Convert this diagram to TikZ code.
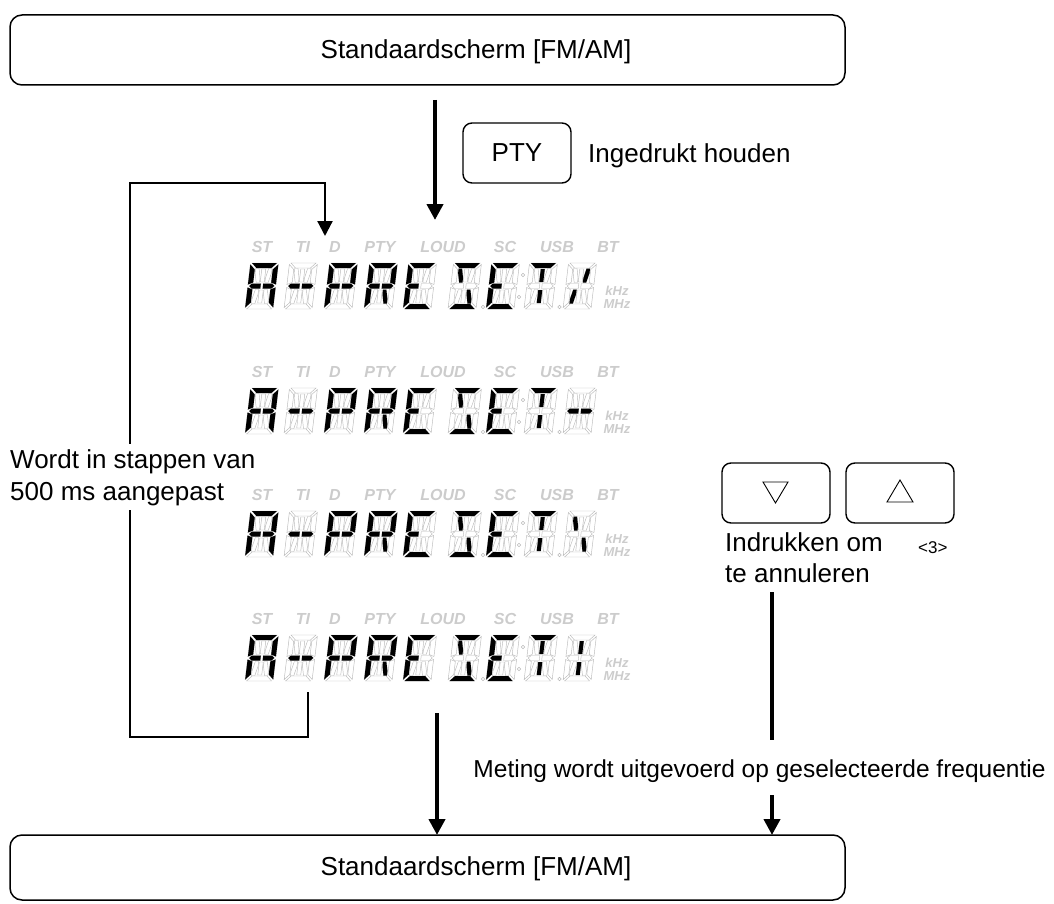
\documentclass[tikz,border=0pt]{standalone}
\usepackage{fontspec}
\setmainfont{Liberation Sans}
\usetikzlibrary{arrows.meta}
% 14-segment geometry (local, unslanted, width 28, height 46)
\def\sga{(1.5,46) -- (26.5,46) -- (21.5,41) -- (6.5,41) -- cycle}
\def\sgd{(1.5,0) -- (26.5,0) -- (21.5,5) -- (6.5,5) -- cycle}
\def\sgf{(0,44.5) -- (5,39.5) -- (5,26.5) -- (0,24.5) -- cycle}
\def\sge{(0,1.5) -- (5,6.5) -- (5,19.5) -- (0,21.5) -- cycle}
\def\sgb{(28,44.5) -- (23,39.5) -- (23,26.5) -- (28,24.5) -- cycle}
\def\sgc{(28,1.5) -- (23,6.5) -- (23,19.5) -- (28,21.5) -- cycle}
\def\sgg{(1.5,23) -- (4,25.5) -- (12.8,25.5) -- (12.8,20.5) -- (4,20.5) -- cycle}
\def\sgp{(26.5,23) -- (24,25.5) -- (15.2,25.5) -- (15.2,20.5) -- (24,20.5) -- cycle}
\def\sgi{(12,40) -- (16,40) -- (16,27) -- (12,27) -- cycle}
\def\sgl{(12,6) -- (16,6) -- (16,19) -- (12,19) -- cycle}
\def\sgh{(5.8,40.5) -- (9.2,40.5) -- (11.3,31) -- (11.3,26.5) -- (8,26.5) -- (5.8,36) -- cycle}
\def\sgj{(22.2,40.5) -- (18.8,40.5) -- (16.7,31) -- (16.7,26.5) -- (20,26.5) -- (22.2,36) -- cycle}
\def\sgk{(5.8,5.5) -- (9.2,5.5) -- (11.3,15) -- (11.3,19.5) -- (8,19.5) -- (5.8,10) -- cycle}
\def\sgm{(22.2,5.5) -- (18.8,5.5) -- (16.7,15) -- (16.7,19.5) -- (20,19.5) -- (22.2,10) -- cycle}
\newcommand\segchar[3]{%
  \begin{scope}[shift={(#1,#2)},xslant=0.12]
    \begin{scope}[gray!55,line width=0.45pt]
      \foreach \s in {a,b,c,d,e,f,g,p,h,i,j,k,l,m}{\expandafter\draw\csname sg\s\endcsname;}
    \end{scope}
    \foreach \s in {#3}{\expandafter\fill\csname sg\s\endcsname;}
  \end{scope}}
\newcommand\vfd[2]{%
  \pgfmathsetmacro\vb{-(#1+46)}
  \pgfmathsetmacro\vi{-(#1-16)}
  \foreach \t/\x in {ST/262,TI/303,D/335,PTY/380,LOUD/443,SC/505,USB/557,BT/608}{%
    \node[ind] (i#1\t) at (\x,\vi) {\t};}
  \segchar{245}{\vb}{a,b,c,e,f,g,p}
  \segchar{284}{\vb}{g,p}
  \segchar{324}{\vb}{a,b,e,f,g,p}
  \segchar{364}{\vb}{a,b,e,f,g,p,m}
  \segchar{403}{\vb}{a,d,e,f,g}
  \segchar{448}{\vb}{a,h,m,d}
  \segchar{486}{\vb}{a,d,e,f,g}
  \segchar{524}{\vb}{a,i,l}
  \segchar{563}{\vb}{#2}
  \draw[gray!55,line width=0.45pt] (483,\vb+2) circle (1.8pt)
     (519,\vb+12) circle (1.8pt) (523,\vb+34) circle (1.8pt)
     (559.5,\vb+2) circle (1.8pt);
  \node[unit] (k#1) at (617,\vb+18) {kHz};
  \node[unit] (m#1) at (617,\vb+5) {MHz};
}
\begin{document}
\begin{tikzpicture}[x=1pt,y=1pt,
  bigbox/.style={draw,line width=1.5pt,rounded corners=12pt,minimum width=835pt,minimum height=70pt},
  btn/.style={draw,line width=1.4pt,rounded corners=9pt,minimum width=108pt,minimum height=60pt},
  flow/.style={line width=4pt,-{Triangle[width=16pt,length=16pt]}},
  loopline/.style={line width=2.2pt,line join=miter,-{Triangle[width=15pt,length=15pt]}},
  txt/.style={font=\fontsize{26}{31}\selectfont,inner sep=0pt},
  ind/.style={font=\fontsize{16}{16}\selectfont\bfseries\itshape,text=gray!40,inner sep=0pt},
  unit/.style={font=\fontsize{13}{13}\selectfont\bfseries\itshape,text=gray!40,inner sep=0pt},
  tri/.style={line width=0.9pt,line join=miter}]
\useasboundingbox (0,0) rectangle (1054,-904);
% boxes
\node[bigbox] (topbox) at (427.5,-50) {};
\node[txt] (toptxt) at (476,-52) {Standaardscherm [FM/AM]};
\node[bigbox,minimum height=65pt] (botbox) at (427.5,-867.5) {};
\node[txt] (bottxt) at (476,-869) {Standaardscherm [FM/AM]};
% PTY
\node[btn] (ptybox) at (517,-153) {};
\node[txt] (pty) at (517,-153) {PTY};
\node[txt,anchor=base west] (hold) at (588,-163) {Ingedrukt houden};
% arrows
\coordinate (a1s) at (435,-100);
\coordinate (a1e) at (435,-220);
\draw[flow] (a1s) -- (a1e);
\coordinate (L0) at (308,-692);
\coordinate (L1) at (308,-737);
\coordinate (L2) at (130,-737);
\coordinate (L3) at (130,-183);
\coordinate (L4) at (325,-183);
\coordinate (L5) at (325,-236);
\draw[loopline] (L0) -- (L1) -- (L2) -- (L3) -- (L4) -- (L5);
\coordinate (b1s) at (437,-713);
\coordinate (b1e) at (437,-835);
\draw[flow] (b1s) -- (b1e);
\coordinate (r1s) at (772,-592);
\coordinate (r1e) at (772,-740);
\draw[line width=4pt] (r1s) -- (r1e);
\coordinate (r2s) at (772,-795);
\coordinate (r2e) at (772,-835);
\draw[flow] (r2s) -- (r2e);
% left text
\node[txt,anchor=base west,fill=white,inner ysep=5pt,inner xsep=0pt] (w1) at (10,-468) {Wordt in stappen van};
\node[txt,anchor=base west,fill=white,inner ysep=5pt,inner xsep=0pt] (w2) at (10,-500) {500 ms aangepast};
% displays
\vfd{263}{j,k}
\vfd{388}{g,p}
\vfd{511}{h,m}
\vfd{635}{i,l}
% buttons
\node[btn] (down) at (776,-493) {};
\node[btn] (up) at (900,-493) {};
\draw[tri] (763,-482) -- (788,-482) -- (775.5,-503) -- cycle;
\draw[tri] (887,-502) -- (913,-502) -- (900,-480) -- cycle;
\node[txt,anchor=base west] (ind1) at (725,-551) {Indrukken om};
\node[txt,anchor=base west] (ind2) at (725,-582) {te annuleren};
\node[anchor=base west,inner sep=0pt,font=\fontsize{17}{17}\selectfont] (ref3) at (918,-553) {<3>};
\node[anchor=base,inner sep=0pt,font=\fontsize{24.5}{29}\selectfont] (meting) at (759.5,-777) {Meting wordt uitgevoerd op geselecteerde frequentie};
\end{tikzpicture}
\end{document}
